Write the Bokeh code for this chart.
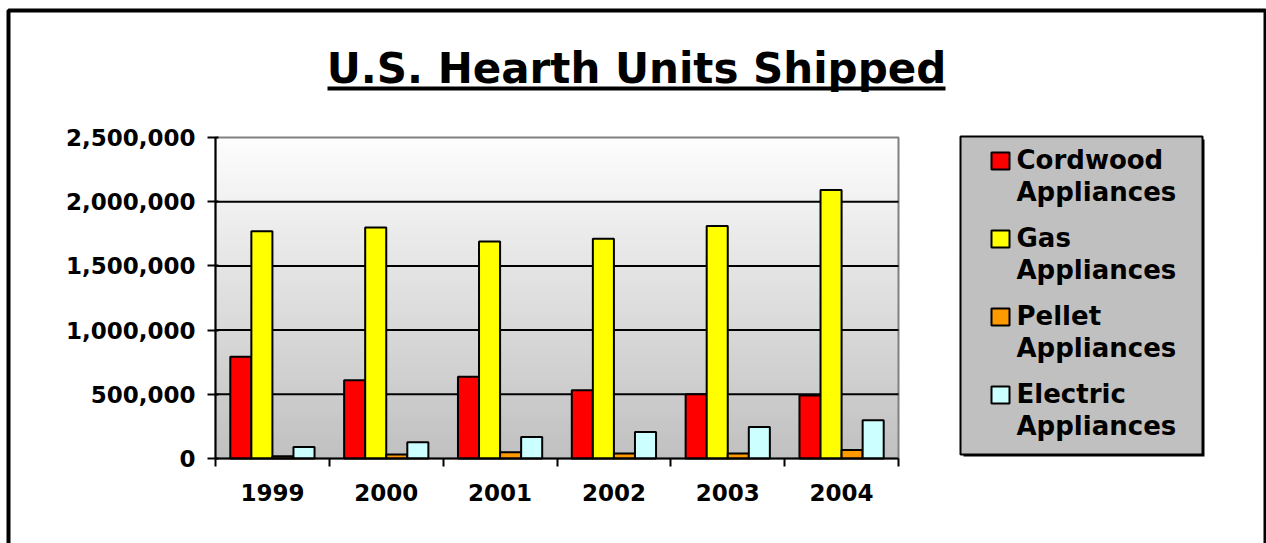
from bokeh.plotting import figure
from bokeh.models import (Range1d, FixedTicker, NumeralTickFormatter, Label,
                          BoxAnnotation, ColumnDataSource, LinearAxis)
from bokeh.transform import dodge
from bokeh.embed import file_html
from bokeh.resources import INLINE

# ---------------- data ----------------
years = [1999, 2000, 2001, 2002, 2003, 2004]
series_names = ["Cordwood Appliances", "Gas Appliances",
                "Pellet Appliances", "Electric Appliances"]
cordwood = [792000, 610000, 636000, 532000, 501000, 490000]
gas = [1769000, 1800000, 1691000, 1712000, 1811000, 2092000]
pellet = [18000, 31000, 49000, 39000, 39000, 67000]
electric = [90000, 127000, 168000, 207000, 246000, 298000]
y_ticks = [0, 500000, 1000000, 1500000, 2000000, 2500000]
colors = ["#ff0000", "#ffff00", "#ff9900", "#ccffff"]
title_text = "U.S. Hearth Units Shipped"

FONT = "DejaVu Sans"
W, H = 1266, 543
# plot area in canvas pixels
PL, PR, PT, PB = 215, 898, 137, 458

x0, x1 = years[0] - 0.5, years[-1] + 0.5
y0, y1 = y_ticks[0], y_ticks[-1]
xs = (x1 - x0) / (PR - PL)
ys = (y1 - y0) / (PB - PT)

p = figure(width=W, height=H, output_backend="svg", toolbar_location=None,
           x_range=Range1d(x0 - PL * xs, x1 + (W - PR) * xs),
           y_range=Range1d(y0 - (H - PB) * ys, y1 + PT * ys),
           x_axis_type=None, y_axis_type=None, min_border=0)
p.min_border_left = p.min_border_right = p.min_border_top = p.min_border_bottom = 0
p.title.visible = False
p.background_fill_color = "white"
p.border_fill_color = "white"
p.outline_line_color = None
p.xgrid.visible = False
p.ygrid.visible = False


def sx(px):
    return px


def sy(py):
    return H - py


def box(l, r, t, b, **kw):
    kw.setdefault("fill_alpha", 1)
    kw.setdefault("line_alpha", 1)
    return BoxAnnotation(left=sx(l), right=sx(r), top=sy(t), bottom=sy(b),
                         left_units="screen", right_units="screen",
                         top_units="screen", bottom_units="screen", **kw)


def text(px, baseline, txt, size, align="left"):
    # empirical baseline correction for Label rendering
    return Label(x=sx(px), y=sy(baseline - 0.35 * size), x_units="screen", y_units="screen",
                 text=txt, text_align=align, text_baseline="alphabetic",
                 text_font=FONT, text_font_size="%dpx" % size, text_font_style="bold",
                 text_color="black")


# ---------------- gradient background of plot area ----------------
n = 80
g_bottom, g_top, g_col = [], [], []
for i in range(n):
    f = (i + 0.5) / n
    c = int(round(192 + (253 - 192) * f))
    g_bottom.append(y0 + (y1 - y0) * i / n)
    g_top.append(y0 + (y1 - y0) * (i + 1) / n)
    g_col.append("#%02x%02x%02x" % (c, c, c))
p.quad(left=x0, right=x1, bottom=g_bottom, top=g_top,
       fill_color=g_col, line_color=g_col, line_width=1, level="image")

# plot-area outline (grey top / right)
p.quad(left=x0, right=x1, bottom=y0, top=y1, fill_color=None,
       line_color="#808080", line_width=2, level="underlay")

# ---------------- gridlines ----------------
grid_y = y_ticks[1:-1]
p.segment(x0=[x0] * len(grid_y), x1=[x1] * len(grid_y), y0=grid_y, y1=grid_y,
          line_color="black", line_width=2, level="underlay")

# ---------------- bars ----------------
src = ColumnDataSource(dict(year=years, s0=cordwood, s1=gas, s2=pellet, s3=electric))
offsets = [-0.2775, -0.0925, 0.0925, 0.2775]
for k in range(4):
    p.vbar(x=dodge("year", offsets[k]), top="s%d" % k, bottom=0,
           width=0.185, source=src, fill_color=colors[k],
           line_color="black", line_width=2)

# ---------------- axes ----------------
xa = LinearAxis(fixed_location=y0, bounds=(x0, x1))
xa.ticker = FixedTicker(ticks=years,
                        minor_ticks=[yy - 0.5 for yy in years] + [years[-1] + 0.5])
xa.major_tick_line_color = None
xa.major_tick_out = 8
xa.major_tick_in = 0
xa.minor_tick_out = 8
xa.minor_tick_in = 0
xa.minor_tick_line_color = "black"
xa.minor_tick_line_width = 2
xa.axis_line_color = "black"
xa.axis_line_width = 2
xa.major_label_text_font = FONT
xa.major_label_text_font_style = "bold"
xa.major_label_text_font_size = "23px"
xa.major_label_text_color = "black"
xa.major_label_standoff = 17
p.add_layout(xa, "below")

ya = LinearAxis(fixed_location=x0, bounds=(y0, y1))
ya.ticker = FixedTicker(ticks=y_ticks, minor_ticks=[])
ya.formatter = NumeralTickFormatter(format="0,0")
ya.major_tick_in = 3
ya.major_tick_out = 8
ya.major_tick_line_width = 2
ya.major_tick_line_color = "black"
ya.minor_tick_line_color = None
ya.axis_line_color = "black"
ya.axis_line_width = 2
ya.major_label_text_font = FONT
ya.major_label_text_font_style = "bold"
ya.major_label_text_font_size = "23px"
ya.major_label_text_color = "black"
ya.major_label_standoff = 12
p.add_layout(ya, "left")

# ---------------- outer border ----------------
p.add_layout(box(8, 1265, 10, 560, fill_color=None, line_color="black", line_width=4))

# ---------------- title ----------------
p.add_layout(text(636, 83, title_text, 42, align="center"))
p.add_layout(box(327, 945, 86, 90, fill_color="black", line_color=None))

# ---------------- legend ----------------
p.add_layout(box(963, 1204, 139, 456, fill_color="black", line_color=None))
p.add_layout(box(960, 1202, 136, 454, fill_color="#c0c0c0",
                 line_color="black", line_width=2))
sw_top = 152
step = 78
for k, name in enumerate(series_names):
    t = sw_top + k * step
    p.add_layout(box(991, 1009, t, t + 17, fill_color=colors[k],
                     line_color="black", line_width=2))
    first, second = name.split(" ", 1)
    for j, txt in enumerate([first, second]):
        p.add_layout(text(1016, t + 17 + 31.5 * j, txt, 26))

open("out.html", "w").write(file_html(p, INLINE))
